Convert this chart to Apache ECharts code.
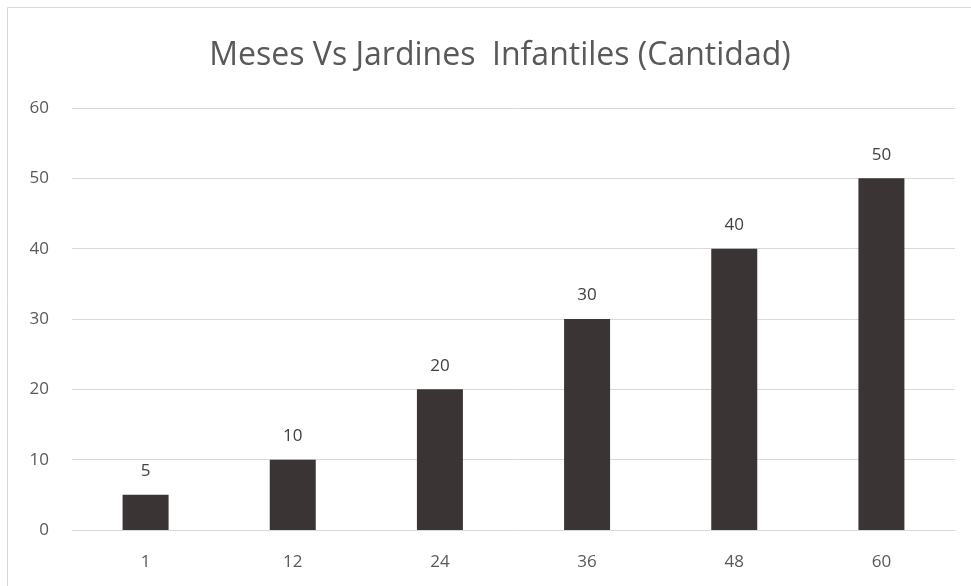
<!DOCTYPE html>
<html><head><meta charset="utf-8">
<script src="https://cdn.jsdelivr.net/npm/echarts@6/dist/echarts.min.js"></script>
<style>html,body{margin:0;padding:0;background:#fff}#c{width:971px;height:586px}</style>
</head><body><div id="c"></div>
<script>
const categories = ['1','12','24','36','48','60'];
const values = [5,10,20,30,40,50];
const yTicks = [0,10,20,30,40,50,60];
const titleText = 'Meses Vs Jardines  Infantiles (Cantidad)';
const chart = echarts.init(document.getElementById('c'));
chart.setOption({
  animation:false,
  backgroundColor:'#fff',
  graphic:[{type:'rect',shape:{x:7.5,y:7.5,width:1000,height:1000},style:{fill:'none',stroke:'#d9d9d9',lineWidth:1},silent:true}],
  title:{text:titleText,left:495,textAlign:'center',top:35,textStyle:{fontFamily:'Open Sans',fontWeight:'normal',fontSize:32,color:'#595959'}},
  grid:{left:72,right:16,top:108,bottom:56},
  xAxis:{type:'category',data:categories,axisLine:{show:true,lineStyle:{color:'#d9d9d9'}},axisTick:{show:false},
    axisLabel:{color:'#595959',fontSize:17,fontFamily:'Open Sans',margin:24}},
  yAxis:{type:'value',min:yTicks[0],max:yTicks[yTicks.length-1],interval:10,axisLine:{show:false},axisTick:{show:false},
    splitLine:{lineStyle:{color:'#d9d9d9'}},axisLabel:{color:'#595959',fontSize:17,fontFamily:'Open Sans',margin:23}},
  series:[{type:'bar',data:values,barWidth:46,itemStyle:{color:'#3a3534'},
    label:{show:true,position:'top',distance:15,color:'#404040',fontSize:17,fontFamily:'Open Sans'}}]
});
</script></body></html>
